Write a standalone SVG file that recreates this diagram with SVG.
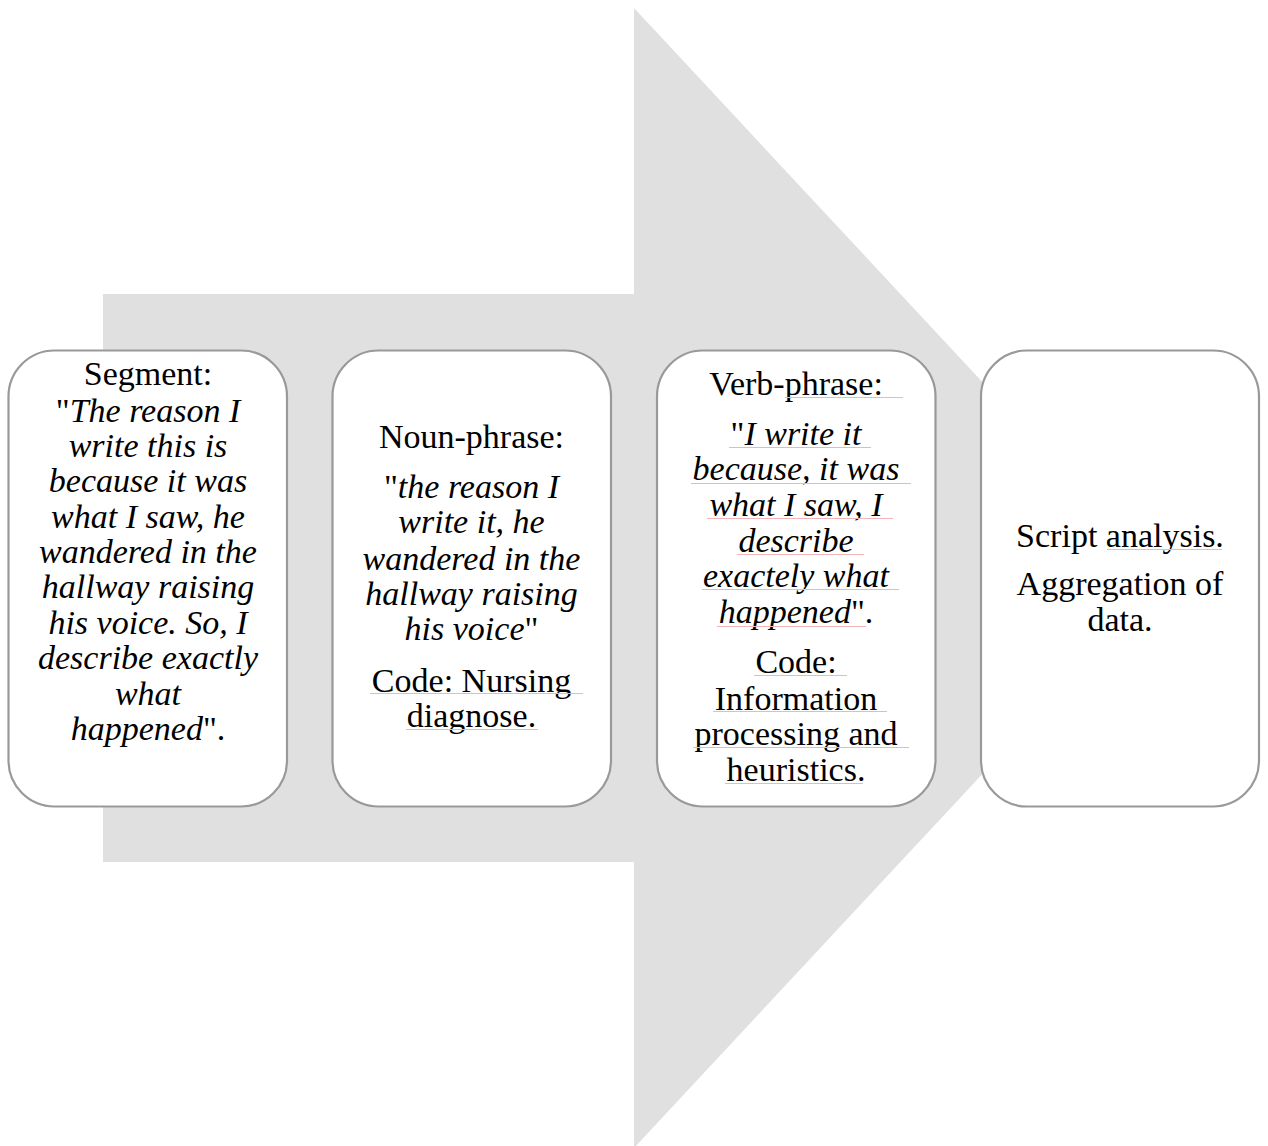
<svg xmlns="http://www.w3.org/2000/svg" width="1268" height="1146" viewBox="0 0 1268 1146">
  <style>
    .box { fill: #ffffff; stroke: #999999; stroke-width: 2.2; }
    .t { font-family: "Liberation Serif", "Times New Roman", serif; font-size: 34px; fill: #000000; text-anchor: middle; }
    .i { font-style: italic; }
    .sq { stroke: #f2b4b4; stroke-width: 1; fill: none; }
  </style>

  <!-- background process arrow -->
  <polygon id="flow-arrow" points="103,294 634,294 634,8 1165,578 634,1148 634,862 103,862" fill="#e0e0e0"/>

  <g id="connectors"/>

  <!-- step 1 -->
  <g id="node-segment">
    <rect class="box" x="8.5" y="350.5" width="278.5" height="456" rx="46" ry="46"/>
    <text class="t" x="148" y="385">Segment:</text>
    <text class="t" x="148" y="422">"<tspan class="i">The reason I</tspan></text>
    <text class="t i" x="148" y="457">write this is</text>
    <text class="t i" x="148" y="492">because it was</text>
    <text class="t i" x="148" y="528">what I saw, he</text>
    <text class="t i" x="148" y="563">wandered in the</text>
    <text class="t i" x="148" y="598">hallway raising</text>
    <text class="t i" x="148" y="634">his voice. So, I</text>
    <text class="t i" x="148" y="669">describe exactly</text>
    <text class="t i" x="148" y="705">what</text>
    <text class="t" x="148" y="740"><tspan class="i">happened</tspan>".</text>
  </g>

  <!-- step 2 -->
  <g id="node-noun-phrase">
    <rect class="box" x="332.5" y="350.5" width="278.5" height="456" rx="46" ry="46"/>
    <text class="t" x="471.5" y="448">Noun-phrase:</text>
    <text class="t" x="471.5" y="498">"<tspan class="i">the reason I</tspan></text>
    <text class="t i" x="471.5" y="533">write it, he</text>
    <text class="t i" x="471.5" y="570">wandered in the</text>
    <text class="t i" x="471.5" y="605">hallway raising</text>
    <text class="t" x="471.5" y="640"><tspan class="i">his voice</tspan>"</text>
    <text class="t" x="471.5" y="692">Code: Nursing</text>
    <text class="t" x="471.5" y="727">diagnose.</text>
    <line class="sq" x1="370" y1="693.5" x2="583" y2="693.5"/>
    <line class="sq" x1="406" y1="729.5" x2="538" y2="729.5"/>
  </g>

  <!-- step 3 -->
  <g id="node-verb-phrase">
    <rect class="box" x="657" y="350.5" width="278.5" height="456" rx="46" ry="46"/>
    <text class="t" x="796" y="395">Verb-phrase:</text>
    <text class="t" x="796" y="445">"<tspan class="i">I write it</tspan></text>
    <text class="t i" x="796" y="480">because, it was</text>
    <text class="t i" x="796" y="516">what I saw, I</text>
    <text class="t i" x="796" y="552">describe</text>
    <text class="t i" x="796" y="587">exactely what</text>
    <text class="t" x="796" y="623"><tspan class="i">happened</tspan>".</text>
    <text class="t" x="796" y="673">Code:</text>
    <text class="t" x="796" y="710">Information</text>
    <text class="t" x="796" y="745">processing and</text>
    <text class="t" x="796" y="781">heuristics.</text>
    <line class="sq" x1="785" y1="397.5" x2="903" y2="397.5"/>
    <line class="sq" x1="729" y1="447.5" x2="871" y2="447.5"/>
    <line class="sq" x1="691" y1="483.5" x2="911" y2="483.5"/>
    <line class="sq" x1="707" y1="518.5" x2="893" y2="518.5"/>
    <line class="sq" x1="737" y1="554.5" x2="864" y2="554.5"/>
    <line class="sq" x1="702" y1="589.5" x2="899" y2="589.5"/>
    <line class="sq" x1="717" y1="626.5" x2="866" y2="626.5"/>
    <line class="sq" x1="754" y1="675.5" x2="847" y2="675.5"/>
    <line class="sq" x1="713" y1="711.5" x2="887" y2="711.5"/>
    <line class="sq" x1="693" y1="747.5" x2="909" y2="747.5"/>
    <line class="sq" x1="725" y1="783.5" x2="863" y2="783.5"/>
  </g>

  <!-- step 4 -->
  <g id="node-script-analysis">
    <rect class="box" x="981" y="350.5" width="278" height="456" rx="46" ry="46"/>
    <text class="t" x="1120" y="547">Script analysis.</text>
    <text class="t" x="1120" y="595">Aggregation of</text>
    <text class="t" x="1120" y="631">data.</text>
    <line class="sq" x1="1107" y1="549.5" x2="1222" y2="549.5"/>
  </g>
</svg>
